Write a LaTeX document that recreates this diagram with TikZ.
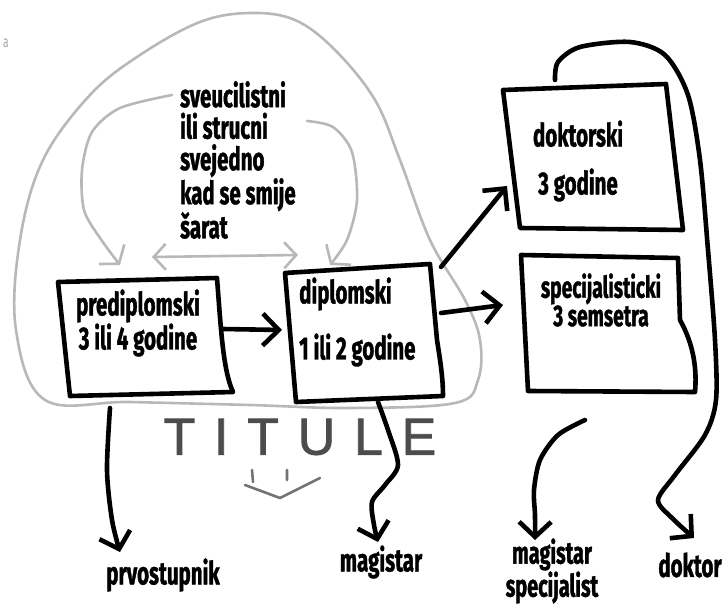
\documentclass[tikz,border=0pt]{standalone}
\usepackage{fontspec}
\setmainfont{Fira Sans}[FakeStretch=0.64,BoldFeatures={FakeBold=1.2}]
\newfontfamily\titfont{Liberation Sans}[LetterSpace=36,FakeBold=1.5]
\usetikzlibrary{arrows.meta}

\begin{document}
\begin{tikzpicture}[x=1pt,y=-1pt,
    ink/.style={line width=4.6pt,line cap=round,line join=round},
    pencil/.style={draw=black!28,line width=2.6pt,line cap=round,line join=round},
    barb/.style={-{Straight Barb[length=#1,width=32pt]}},
    barb/.default=15pt,
    label/.style={font=\bfseries\fontsize{32}{33}\selectfont,inner sep=0pt}]
  \useasboundingbox (0,0) rectangle (726,607);

  % gray scribbles behind everything
  \node[text=black!35,font=\fontsize{16}{16}\selectfont] (corner) at (6,43) {a};
  \draw[pencil] plot[smooth cycle,tension=0.6] coordinates {(45,400) (16,330) (20,240)
    (43,160) (90,95) (140,55) (200,22) (250,13) (295,20) (335,50) (375,100) (400,160)
    (430,240) (465,300) (480,340) (478,380) (455,403) (350,408) (250,405) (130,402)};
  \draw[pencil,barb=12pt] plot[smooth] coordinates {(172,95) (120,108) (92,132) (82,170)
    (84,210) (100,238) (120,265)};
  \draw[pencil,barb=12pt] plot[smooth] coordinates {(307,121) (333,127) (352,152)
    (357,200) (347,240) (330,265)};
  \coordinate (swap-l) at (152,257);
  \coordinate (swap-r) at (298,255);
  \draw[pencil,{Straight Barb[length=12pt,width=26pt]}-{Straight Barb[length=12pt,width=26pt]}]
    (swap-l) -- (swap-r);

  \node[label,anchor=west,align=left,font=\bfseries\fontsize{32}{31.5}\selectfont]
    (note) at (180,160) {sveucilistni\\ili strucni\\svejedno\\kad se smije\\šarat};

  % boxes
  \coordinate (pre-nw) at (58,282);  \coordinate (pre-ne) at (217,278);
  \coordinate (pre-se) at (233,392); \coordinate (pre-sw) at (70,396);
  \draw[ink] (pre-nw) -- (pre-ne) .. controls (221,330) and (223,370) .. (pre-se)
    -- (pre-sw) -- cycle;
  \node[label,align=center] (pre) at (138,323) {prediplomski\\3 ili 4 godine};

  \coordinate (dip-nw) at (285,273); \coordinate (dip-ne) at (430,264);
  \coordinate (dip-se) at (443,396); \coordinate (dip-sw) at (296,402);
  \draw[ink] (dip-nw) -- (dip-ne) -- (437,340) .. controls (441,365) and (443,380) .. (dip-se)
    -- (dip-sw) -- cycle;
  \node[label,anchor=west,align=left] (dip) at (299,322) {diplomski\\[22pt]1 ili 2 godine};

  \coordinate (dok-nw) at (503,90);  \coordinate (dok-ne) at (666,84);
  \coordinate (dok-se) at (683,230); \coordinate (dok-sw) at (520,228);
  \draw[ink] (dok-nw) -- (dok-ne) -- (dok-se) -- (dok-sw) -- cycle;
  \node[label,align=center] (dok) at (578,161) {doktorski\\[15pt]3 godine};

  \coordinate (spe-nw) at (521,255); \coordinate (spe-ne) at (678,258);
  \coordinate (spe-se) at (695,392); \coordinate (spe-sw) at (528,391);
  \draw[ink] (spe-nw) -- (spe-ne) -- (680,320) .. controls (694,345) and (697,370) .. (spe-se)
    -- (spe-sw) -- cycle;
  \node[label,align=center,font=\bfseries\fontsize{30}{27}\selectfont]
    (spe) at (601,300) {specijalisticki\\3 semsetra};

  % arrows between boxes
  \coordinate (pre-out) at (223,329);
  \coordinate (dip-in) at (282,330);
  \draw[ink,barb=16pt] (pre-out) -- (dip-in);
  \coordinate (dip-out) at (441,313);
  \coordinate (spe-in) at (503,305);
  \draw[ink,barb=16pt] (dip-out) -- (spe-in);
  \coordinate (dip-up) at (441,267);
  \coordinate (dok-in) at (507,186);
  \draw[ink,barb=16pt] (dip-up) -- (dok-in);

  % titles
  \node[text=black!70,font=\titfont\fontsize{52}{52}\selectfont,inner sep=0pt]
    (titule) at (300,437) {TITULE};
  \draw[pencil,draw=black!55] (252,470) -- (253,482) (287,470) -- (287,480)
    (245,485) -- (280,498) -- (320,478);

  \node[label] (prvo) at (163,575) {prvostupnik};
  \node[label] (mag) at (381,562) {magistar};
  \node[label,align=center,font=\bfseries\fontsize{31}{24}\selectfont]
    (magspec) at (552,571) {magistar\\specijalist};
  \node[label] (doktor) at (690,565) {doktor};

  \coordinate (prvo-tip) at (120,552);
  \draw[ink,barb] plot[smooth] coordinates {(110,408) (107,470) (112,520) (prvo-tip)};
  \coordinate (mag-tip) at (378,542);
  \draw[ink,barb] plot[smooth] coordinates {(378,402) (388,430) (398,465) (385,485)
    (372,502) (374,525) (mag-tip)};
  \coordinate (magspec-tip) at (535,540);
  \draw[ink,barb] plot[smooth] coordinates {(585,420) (558,435) (540,460) (534,490)
    (535,515) (magspec-tip)};
  \coordinate (doktor-tip) at (694,538);
  \draw[ink,barb] plot[smooth] coordinates {(555,80) (558,62) (580,47) (630,42) (665,55)
    (688,95) (700,160) (708,250) (715,340) (716,400) (705,435) (675,475) (658,500)
    (672,518) (doktor-tip)};
\end{tikzpicture}
\end{document}
